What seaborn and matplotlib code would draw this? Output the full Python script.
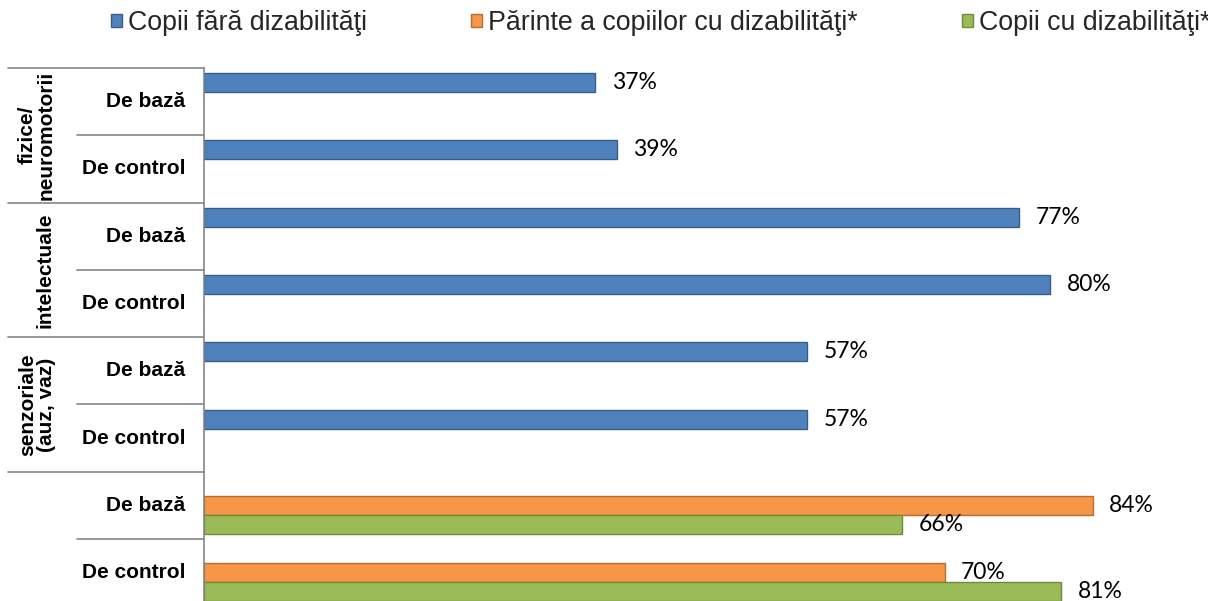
import numpy as np
import pandas as pd
import matplotlib
matplotlib.use("Agg")
import matplotlib.pyplot as plt
import matplotlib.patches as mpatches
import seaborn as sns

# ---- data ----
groups = ["fizice/\nneuromotorii", "intelectuale", "senzoriale\n(auz, vaz)", ""]
subcats = ["De bază", "De control"]
series = ["Copii fără dizabilităţi", "Părinte a copiilor cu dizabilităţi*", "Copii cu dizabilităţi*"]
copii_fara = [37, 39, 77, 80, 57, 57, np.nan, np.nan]
parinte = [np.nan, np.nan, np.nan, np.nan, np.nan, np.nan, 84, 70]
copii_cu = [np.nan, np.nan, np.nan, np.nan, np.nan, np.nan, 66, 81]

fills = ["#4F81BD", "#F79646", "#9BBB59"]
edges = ["#385D8A", "#B66D31", "#71893F"]

rows = [f"r{i}" for i in range(len(copii_fara))]
recs = []
for name, vals in zip(series, [copii_fara, parinte, copii_cu]):
    for r, v in zip(rows, vals):
        if not np.isnan(v):
            recs.append({"row": r, "serie": name, "val": v})
df = pd.DataFrame(recs)

sns.set_theme(style="white")
plt.rcParams["font.family"] = ["Liberation Sans", "DejaVu Sans"]

fig = plt.figure(figsize=(12.08, 6.01), dpi=100)
L, R, T, B = 204, 1208, 68, 601
W, H = 1208, 601
ax = fig.add_axes([L / W, 0, (R - L) / W, (H - T) / H])

sns.barplot(data=df, y="row", x="val", hue="serie", order=rows, hue_order=series,
            palette=fills, orient="h", width=0.85, errorbar=None, ax=ax,
            linewidth=1.0, legend=False, saturation=1)

for cont, ec in zip(ax.containers, edges):
    for p in cont:
        p.set_edgecolor(ec)
    ax.bar_label(cont, labels=[f"{int(round(v))}%" for v in cont.datavalues],
                 padding=12, fontsize=16.5, family=["Lato", "DejaVu Sans"], color="#000000")

ax.set_xlim(0, 94.9)
ax.set_ylim(7.42, -0.5)
ax.set_xlabel("")
ax.set_ylabel("")
ax.set_xticks([])
ax.set_yticks([])
for s in ["top", "right", "bottom"]:
    ax.spines[s].set_visible(False)
ax.spines["left"].set_color("#868686")
ax.spines["left"].set_linewidth(1.2)

tr = ax.get_yaxis_transform()
def fx(px):
    return (px - L) / (R - L)

line_c = "#868686"
n = len(rows)
for i in range(n):
    # sub-category label
    ax.text(fx(185), i, subcats[i % 2], transform=tr, ha="right", va="center",
            fontsize=15, fontweight="bold", color="#000000")
for g in range(len(groups)):
    top = 2 * g - 0.5
    ax.plot([fx(8), 0], [top, top], transform=tr, color=line_c, lw=1.2, clip_on=False)
    mid = 2 * g + 0.5
    ax.plot([fx(77), 0], [mid, mid], transform=tr, color=line_c, lw=1.2, clip_on=False)
    if groups[g]:
        xpx = 37 if "\n" in groups[g] else 45
        ax.text(fx(xpx), mid, groups[g], transform=tr, ha="center", va="center",
                rotation=90, fontsize=15, fontweight="bold", linespacing=1.0,
                multialignment="center", color="#000000")

handles = [mpatches.Patch(facecolor=f, edgecolor=e, linewidth=1.0, label=s)
           for f, e, s in zip(fills, edges, series)]
fig.legend(handles=handles, loc="center left", bbox_to_anchor=(111 / W, 1 - 23 / H),
           ncol=3, frameon=False, fontsize=19.3, handlelength=0.4, handleheight=0.4,
           handletextpad=0.22, columnspacing=3.9, borderaxespad=0, borderpad=0)

fig.savefig("out.png", dpi=100)
